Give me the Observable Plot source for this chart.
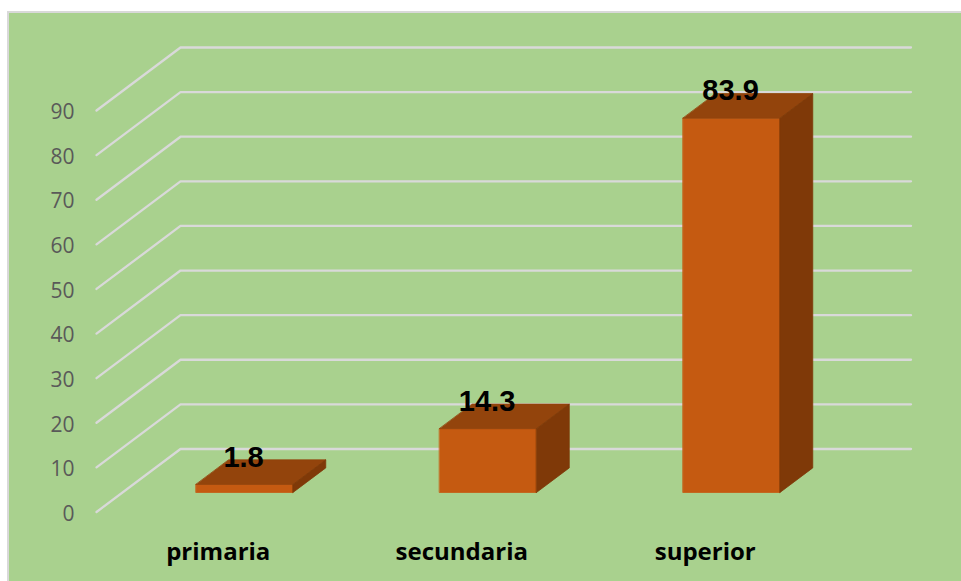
<!DOCTYPE html>
<html>
<head>
<meta charset="utf-8">
<script src="https://cdn.jsdelivr.net/npm/d3@7"></script>
<script src="https://cdn.jsdelivr.net/npm/@observablehq/plot@0.6"></script>
<style>
html,body{margin:0;padding:0;background:#fff;overflow:hidden;width:961px;height:581px}
#panel{position:absolute;left:7px;top:11px;width:954px;height:570px;box-sizing:border-box;background:#A9D18E;border-left:2px solid #D9D9D9;border-top:2px solid #D9D9D9}
#chart{position:absolute;left:0;top:0}
</style>
</head>
<body>
<div id="panel"></div>
<div id="chart"></div>
<script>
const categories = ["primaria", "secundaria", "superior"];
const values = [1.8, 14.3, 83.9];
const valueLabels = ["1.8", "14.3", "83.9"];
const yTicks = [0, 10, 20, 30, 40, 50, 60, 70, 80, 90];

// Oblique projection: depth 0 is the front plane, depth 1 is the back wall.
const depthX = 84 / 243.5; // in category units
const depthY = 63 / 4.46;  // in value units
const barStart = 0.302, barWidth = 0.398, barFront = 0.31, barDepth = 0.39;
const px = (pos, d) => pos + d * depthX;
const py = (v, d) => v + d * depthY;

const gridLines = yTicks.flatMap(t => [
  {z: t, x: px(0, 0), y: py(t, 0)},
  {z: t, x: px(0, 1), y: py(t, 1)},
  {z: t, x: px(3, 1), y: py(t, 1)}
]);

const faces = (kind) => values.flatMap((v, i) => {
  const l = i + barStart, r = l + barWidth, f = barFront, b = barFront + barDepth;
  const c = {
    front: [[l, f, 0], [r, f, 0], [r, f, v], [l, f, v]],
    top:   [[l, f, v], [r, f, v], [r, b, v], [l, b, v]],
    side:  [[r, f, 0], [r, b, 0], [r, b, v], [r, f, v]]
  }[kind];
  return c.map(([p, d, h]) => ({z: i, x: px(p, d), y: py(h, d)}));
});

const faceMark = (kind, fill) => Plot.line(faces(kind), {
  x: "x", y: "y", z: "z", fill, stroke: fill, strokeWidth: 0.8, curve: "linear-closed"
});

const labels = values.map((v, i) => ({
  x: px(i + barStart + barWidth / 2, barFront), y: py(v, barFront), text: valueLabels[i]
}));

const chart = Plot.plot({
  width: 961,
  height: 581,
  marginTop: 110,
  marginBottom: 69.5,
  marginLeft: 96,
  marginRight: 134.5,
  style: {background: "transparent", overflow: "visible"},
  x: {type: "linear", domain: [0, 3]},
  y: {type: "linear", domain: [0, 90]},
  marks: [
    Plot.line(gridLines, {x: "x", y: "y", z: "z", stroke: "#D9D9D9", strokeWidth: 2.3, curve: "linear"}),
    faceMark("front", "#C55A11"),
    faceMark("top", "#93440C"),
    faceMark("side", "#7F3908"),
    Plot.axisY({
      ticks: yTicks, tickSize: 0, tickPadding: 22, label: null,
      fontSize: 21, fontFamily: "Open Sans", color: "#595959", dy: 2
    }),
    Plot.axisX({
      ticks: [0.5, 1.5, 2.5], tickFormat: d => categories[Math.floor(d)],
      tickSize: 0, tickPadding: 31, label: null,
      fontSize: 24, fontFamily: "Open Sans", fontWeight: "bold", color: "#000"
    }),
    Plot.text(labels, {
      x: "x", y: "y", text: "text", dx: -1, dy: -27,
      fontSize: 29, fontFamily: "Liberation Sans", fontWeight: "bold", fill: "#000"
    })
  ]
});
document.getElementById("chart").append(chart);
</script>
</body>
</html>
